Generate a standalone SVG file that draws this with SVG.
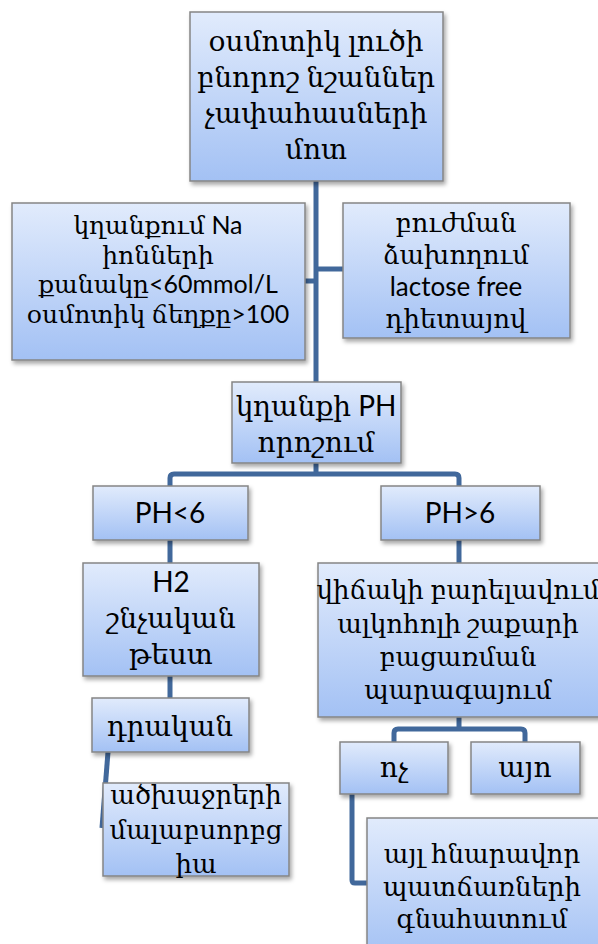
<svg xmlns="http://www.w3.org/2000/svg" width="598" height="944" viewBox="0 0 598 944">
  <defs>
    <linearGradient id="boxFill" x1="0" y1="0" x2="0" y2="1">
      <stop offset="0" stop-color="#e1ebfc"/>
      <stop offset="1" stop-color="#a3c1f4"/>
    </linearGradient>
    <filter id="shadow" x="-10%" y="-10%" width="130%" height="130%">
      <feDropShadow dx="2" dy="3" stdDeviation="2" flood-color="#000" flood-opacity="0.35"/>
    </filter>
  </defs>
  <style>
    .box { fill: url(#boxFill); stroke: #858585; stroke-width: 1.5; filter: url(#shadow); }
    .lbl { font-family: Lato, "DejaVu Serif", serif; font-size: 26px; fill: #000; text-anchor: middle; }
    .big { font-size: 28px; }
    .sm { font-size: 25px; }
    .link { fill: none; stroke: #41689b; stroke-width: 5; stroke-linejoin: round; }
  </style>

  <!-- connectors -->
  <g id="connectors">
    <path class="link" d="M316 181 V382"/>
    <path class="link" d="M305 281 H316"/>
    <path class="link" d="M316 269 H343"/>
    <path class="link" d="M316 463 V474"/>
    <path class="link" d="M170 486 V478 Q170 474 174 474 H455 Q459 474 459 478 V486"/>
    <path class="link" d="M170 540 V563"/>
    <path class="link" d="M170 676 V698"/>
    <path class="link" stroke-width="4" d="M108 752 L102 828"/>
    <path class="link" d="M459 540 V563"/>
    <path class="link" d="M459 717 V729"/>
    <path class="link" d="M394 742 V733 Q394 729 398 729 H521 Q525 729 525 733 V742"/>
    <path class="link" d="M352 794 V880 Q352 883 355 883 H367"/>
  </g>

  <!-- top node -->
  <g id="n-osmotic">
    <rect class="box" x="190" y="12" width="253" height="169"/>
    <text class="lbl big" x="316" y="51">օսմոտիկ լուծի</text>
    <text class="lbl big" x="316" y="87">բնորոշ նշաններ</text>
    <text class="lbl big" x="316" y="123">չափահասների</text>
    <text class="lbl big" x="316" y="159">մոտ</text>
  </g>

  <g id="n-stool-na">
    <rect class="box" x="12" y="203" width="293" height="157"/>
    <text class="lbl sm" x="158" y="234">կղանքում Na</text>
    <text class="lbl sm" x="158" y="263.5">իոնների</text>
    <text class="lbl sm" x="158" y="293">քանակը&lt;60mmol/L</text>
    <text class="lbl sm" x="158" y="322.5">օսմոտիկ ճեղքը&gt;100</text>
  </g>

  <g id="n-lactose">
    <rect class="box" x="343" y="203" width="227" height="135"/>
    <text class="lbl" x="456" y="232">բուժման</text>
    <text class="lbl" x="456" y="264">ձախողում</text>
    <text class="lbl" x="456" y="296">lactose free</text>
    <text class="lbl" x="456" y="328">դիետայով</text>
  </g>

  <g id="n-ph">
    <rect class="box" x="232" y="382" width="169" height="81"/>
    <text class="lbl big" x="316" y="416">կղանքի PH</text>
    <text class="lbl big" x="316" y="452">որոշում</text>
  </g>

  <g id="n-ph-low">
    <rect class="box" x="93" y="486" width="155" height="54"/>
    <text class="lbl big" x="170" y="523">PH&lt;6</text>
  </g>

  <g id="n-ph-high">
    <rect class="box" x="381" y="486" width="159" height="54"/>
    <text class="lbl big" x="460" y="523">PH&gt;6</text>
  </g>

  <g id="n-h2">
    <rect class="box" x="83" y="563" width="176" height="113"/>
    <text class="lbl big" x="171" y="592">H2</text>
    <text class="lbl big" x="171" y="628">շնչական</text>
    <text class="lbl big" x="171" y="664">թեստ</text>
  </g>

  <g id="n-positive">
    <rect class="box" x="92" y="698" width="157" height="54"/>
    <text class="lbl big" x="170" y="736">դրական</text>
  </g>

  <g id="n-malabsorption">
    <rect class="box" x="103" y="783" width="186" height="93"/>
    <text class="lbl" x="196" y="804">ածխաջրերի</text>
    <text class="lbl" x="196" y="839">մալաբսորբց</text>
    <text class="lbl" x="196" y="873">իա</text>
  </g>

  <g id="n-alcohol">
    <rect class="box" x="318" y="563" width="282" height="154"/>
    <text class="lbl" x="458" y="599">վիճակի բարելավում</text>
    <text class="lbl" x="458" y="633">ալկոհոլի շաքարի</text>
    <text class="lbl" x="458" y="666">բացառման</text>
    <text class="lbl" x="458" y="699">պարագայում</text>
  </g>

  <g id="n-no">
    <rect class="box" x="340" y="742" width="108" height="52"/>
    <text class="lbl big" x="394" y="777">ոչ</text>
  </g>

  <g id="n-yes">
    <rect class="box" x="471" y="742" width="109" height="52"/>
    <text class="lbl big" x="525" y="777">այո</text>
  </g>

  <g id="n-other">
    <rect class="box" x="367" y="818" width="240" height="140"/>
    <text class="lbl" x="482" y="863">այլ հնարավոր</text>
    <text class="lbl" x="482" y="896">պատճառների</text>
    <text class="lbl" x="482" y="928">գնահատում</text>
  </g>
</svg>
